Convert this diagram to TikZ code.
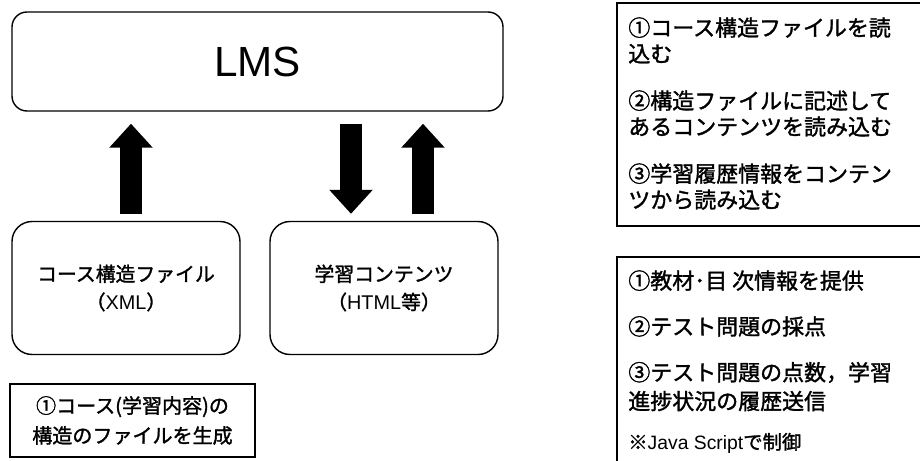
\documentclass[tikz,border=0pt]{standalone}
\usepackage{fontspec}
\setmainfont{Noto Sans CJK JP}[FakeBold=1.5]
\newfontfamily\latin{Liberation Sans}
\usetikzlibrary{arrows.meta}

\tikzset{
  sysbox/.style={draw, line width=0.8pt, rounded corners=0.4cm, align=center,
    minimum width=4.56cm, minimum height=2.66cm, font=\fontsize{11.3}{16}\selectfont},
  bigarrow/.style={line width=0.44cm, line cap=butt,
    -{Triangle[width=0.84cm,length=0.48cm]}},
  memo/.style={anchor=north west, align=left, inner sep=0pt},
}

\begin{document}
\begin{tikzpicture}
  \useasboundingbox (0,0) rectangle (18.4,9.2);
  \clip (0,0) rectangle (18.4,9.2);

  % LMS and the two files
  \node[sysbox, rounded corners=0.3cm, minimum width=9.82cm, minimum height=1.98cm,
    font=\latin\fontsize{24}{28}\selectfont] (lms) at (5.15,7.97) {LMS};
  \node[sysbox] (course) at (2.52,3.44) {コース構造ファイル\\（{\latin XML}）};
  \node[sysbox] (content) at (7.68,3.44) {学習コンテンツ\\（{\latin HTML}等）};

  % arrows
  \coordinate (a1) at ([xshift=0.1cm]course.north);
  \coordinate (a2) at ([xshift=-0.66cm]content.north);
  \coordinate (a3) at ([xshift=0.78cm]content.north);
  \draw[bigarrow, shorten <=0.14cm, shorten >=0.24cm] (a1) -- (a1 |- lms.south);
  \draw[bigarrow, shorten <=0.24cm, shorten >=0.14cm] (a2 |- lms.south) -- (a2);
  \draw[bigarrow, shorten <=0.14cm, shorten >=0.24cm] (a3) -- (a3 |- lms.south);

  % note under the course file
  \node[draw, line width=1pt, minimum width=4.9cm, minimum height=1.46cm, align=center,
    font=\fontsize{11.4}{17}\selectfont] (gen) at (2.65,0.79)
    {①コース(学習内容)の\\構造のファイルを生成};

  % notes on the right
  \draw[line width=0.8pt] (12.34,9.14) rectangle (18.8,4.68);
  \node[memo, font=\fontsize{12.5}{14.8}\selectfont] (lmsnote) at (12.56,8.86)
    {①コース構造ファイルを読\\込む\\[0.42cm]
     ②構造ファイルに記述して\\あるコンテンツを読み込む\\[0.42cm]
     ③学習履歴情報をコンテン\\ツから読み込む};

  \draw[line width=0.8pt] (12.34,4.06) rectangle (18.8,-0.2);
  \node[memo, font=\fontsize{12.5}{16.4}\selectfont] (contnote) at (12.56,3.8)
    {①教材･目 次情報を提供\\[0.34cm]
     ②テスト問題の採点\\[0.34cm]
     ③テスト問題の点数，学習\\進捗状況の履歴送信\\[0.22cm]
     {\fontsize{11}{13}\selectfont ※{\latin Java Script}で制御}};
\end{tikzpicture}
\end{document}
